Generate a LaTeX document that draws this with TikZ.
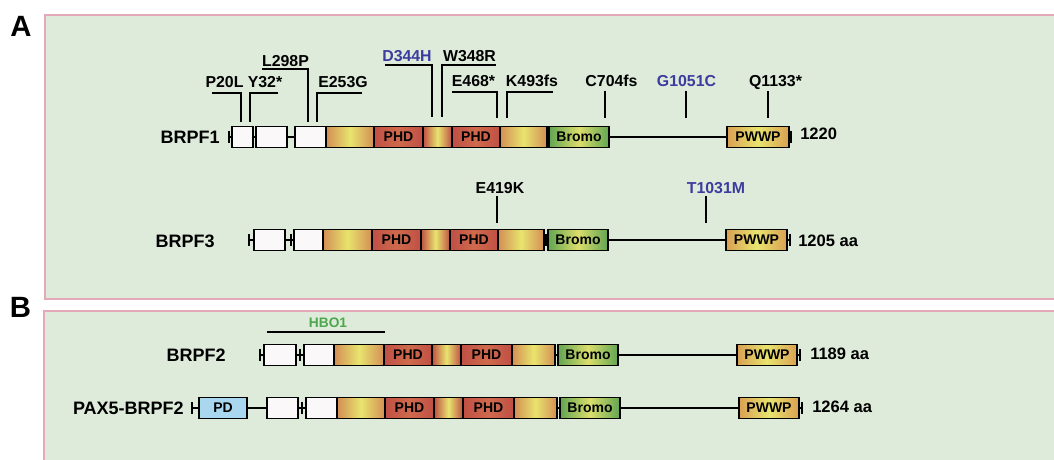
\documentclass[tikz,border=0pt]{standalone}
\usepackage{fontspec}
\setmainfont{Liberation Sans}
\definecolor{bgG}{HTML}{DEEBDA}
\definecolor{bdP}{HTML}{E4A8B8}
\definecolor{cOr}{HTML}{D38E55}
\definecolor{cYe}{HTML}{E8E46E}
\definecolor{cRd}{HTML}{C04F45}
\definecolor{cRd2}{HTML}{CF6A4C}
\definecolor{cGr}{HTML}{62A552}
\definecolor{cOr2}{HTML}{D9A052}
\definecolor{cBl}{HTML}{AAD7F0}
\definecolor{cWh}{HTML}{FBF8FA}
\definecolor{tBlue}{HTML}{3C3CA0}
\definecolor{tGreen}{HTML}{4CA64C}
\newcommand\dm[6]{\node[#1, minimum width={(#4-#3)*0.75pt}] (#2) at ({(#3+#4)/2},#5) {#6};}
\newcommand\tk[3]{\coordinate (#1) at (#2,#3); \draw[tickline] ([yshift=4.5pt]#1) -- ([yshift=-4.5pt]#1);}
\begin{document}
\begin{tikzpicture}[x=0.75pt,y=-0.75pt,
  panel/.style={fill=bgG, draw=bdP, line width=1.1pt},
  dom/.style={draw=black, line width=1.2pt, minimum height=15.75pt, inner sep=0pt, outer sep=0pt, font=\bfseries\fontsize{10.5}{12}\selectfont},
  wbox/.style={dom, fill=cWh},
  grad/.style={dom, left color=cOr, right color=cOr, middle color=cYe},
  phd/.style={dom, left color=cRd, right color=cRd, middle color=cRd2},
  midd/.style={dom, left color=cRd, right color=cRd, middle color=cYe},
  bromo/.style={dom, left color=cGr, right color=cGr, middle color=cYe!90!cGr},
  pwwp/.style={dom, left color=cOr2, right color=cOr2, middle color=cYe},
  pd/.style={dom, fill=cBl},
  bb/.style={line width=1.2pt},
  tickline/.style={line width=1.2pt},
  pname/.style={font=\bfseries\fontsize{13.5}{15}\selectfont, anchor=base east, inner sep=0pt},
  mut/.style={font=\bfseries\fontsize{11.9}{14}\selectfont, anchor=base, inner sep=0pt},
  sz/.style={font=\bfseries\fontsize{12.4}{14}\selectfont, anchor=base west, inner sep=0pt},
  ml/.style={line width=1.1pt},
  plabel/.style={font=\bfseries\fontsize{22}{24}\selectfont, anchor=base, inner sep=0pt}]
\useasboundingbox (0,0) rectangle (1054,460);
\begin{scope}
\clip (0,0) rectangle (1054,460);
\draw[panel] (45,15) rectangle (1070,299);
\draw[panel] (44,311) rectangle (1070,480);
\end{scope}
\node[plabel] (lA) at (21,37) {A};
\node[plabel] (lB) at (20.5,317) {B};

% ---------- BRPF1 ----------
\node[pname] (p1) at (220,143.5) {BRPF1};
\coordinate (s1) at (229,137); \coordinate (e1) at (791,137);
\draw[bb] (s1) -- (e1);
\tk{a1}{229}{137} \tk{b1}{791}{137} \tk{c1}{548}{137}
\dm{wbox}{w11}{232}{253}{137}{}
\dm{wbox}{w12}{256}{287}{137}{}
\dm{wbox}{w13}{295}{326}{137}{}
\dm{grad}{g11}{326}{374}{137}{}
\dm{phd}{h11}{374}{423}{137}{PHD}
\dm{midd}{m1}{423}{452}{137}{}
\dm{phd}{h12}{452}{500}{137}{PHD}
\dm{grad}{g12}{500}{547}{137}{}
\dm{bromo}{br1}{549}{609}{137}{Bromo}
\dm{pwwp}{pw1}{727}{789}{137}{PWWP}
\node[sz] (z1) at (800,140) {1220};
% mutations
\node[mut] (mP20L) at (224.5,88) {P20L};
\draw[ml] (212,93) -- (241,93) -- (241,122);
\node[mut] (mY32) at (265,88) {Y32*};
\draw[ml] (278,93) -- (250,93) -- (250,122);
\node[mut] (mL298P) at (285.5,67) {L298P};
\draw[ml] (262,69) -- (308,69) -- (308,122);
\node[mut] (mE253G) at (343,88) {E253G};
\draw[ml] (362,93) -- (317,93) -- (317,122);
\node[mut, text=tBlue] (mD344H) at (407,62) {D344H};
\draw[ml] (385,65) -- (432,65) -- (432,117);
\node[mut] (mW348R) at (469.5,62) {W348R};
\draw[ml] (496,65) -- (442,65) -- (442,117);
\node[mut] (mE468) at (473.5,87) {E468*};
\draw[ml] (452,92) -- (497,92) -- (497,118);
\node[mut] (mK493) at (532,87) {K493fs};
\draw[ml] (553,92) -- (507,92) -- (507,118);
\node[mut] (mC704) at (611.5,87) {C704fs};
\draw[ml] (605,91) -- (605,118);
\node[mut, text=tBlue] (mG1051) at (686.5,87) {G1051C};
\draw[ml] (686,91) -- (686,118);
\node[mut] (mQ1133) at (775.5,87) {Q1133*};
\draw[ml] (768,91) -- (768,118);

% ---------- BRPF3 ----------
\node[pname] (p3) at (215,247) {BRPF3};
\coordinate (s3) at (249,240); \coordinate (e3) at (790,240);
\draw[bb] (s3) -- (e3);
\tk{a3}{249}{240} \tk{b3}{790}{240} \tk{c3}{546}{240} \tk{d3}{291}{240}
\dm{wbox}{w31}{254}{285}{240}{}
\dm{wbox}{w32}{294}{323}{240}{}
\dm{grad}{g31}{323}{372}{240}{}
\dm{phd}{h31}{372}{421}{240}{PHD}
\dm{midd}{m3}{421}{450}{240}{}
\dm{phd}{h32}{450}{498}{240}{PHD}
\dm{grad}{g32}{498}{544}{240}{}
\dm{bromo}{br3}{548}{608}{240}{Bromo}
\dm{pwwp}{pw3}{726}{787}{240}{PWWP}
\node[sz] (z3) at (798,246) {1205 aa};
\node[mut] (mE419K) at (500,193) {E419K};
\draw[ml] (497,196) -- (497,223);
\node[mut, text=tBlue] (mT1031M) at (716,193) {T1031M};
\draw[ml] (706,196) -- (706,223);

% ---------- BRPF2 ----------
\node[font=\bfseries\fontsize{10.3}{12}\selectfont, text=tGreen, anchor=base, inner sep=0pt] (hbo) at (328,327) {HBO1};
\draw[ml] (267,332) -- (385,332);
\node[pname] (p2) at (226,361.5) {BRPF2};
\coordinate (s2) at (260,355); \coordinate (e2) at (800,355);
\draw[bb] (s2) -- (e2);
\tk{a2}{260}{355} \tk{b2}{800}{355} \tk{d2}{300}{355}
\dm{wbox}{w21}{264}{296}{355}{}
\dm{wbox}{w22}{304}{334}{355}{}
\dm{grad}{g21}{334}{384}{355}{}
\dm{phd}{h21}{384}{432}{355}{PHD}
\dm{midd}{m2}{432}{461}{355}{}
\dm{phd}{h22}{461}{512}{355}{PHD}
\dm{grad}{g22}{512}{555}{355}{}
\dm{bromo}{br2}{558}{618}{355}{Bromo}
\dm{pwwp}{pw2}{737}{797}{355}{PWWP}
\node[sz] (z2) at (810,359) {1189 aa};

% ---------- PAX5-BRPF2 ----------
\node[pname] (p5) at (184,414.5) {PAX5-BRPF2};
\coordinate (s5) at (192,408); \coordinate (e5) at (802,408);
\draw[bb] (s5) -- (e5);
\tk{a5}{192}{408} \tk{b5}{802}{408} \tk{d5}{302}{408}
\dm{pd}{pd5}{199}{247}{408}{PD}
\dm{wbox}{w51}{267}{298}{408}{}
\dm{wbox}{w52}{306}{337}{408}{}
\dm{grad}{g51}{337}{385}{408}{}
\dm{phd}{h51}{385}{434}{408}{PHD}
\dm{midd}{m5}{434}{463}{408}{}
\dm{phd}{h52}{463}{514}{408}{PHD}
\dm{grad}{g52}{514}{557}{408}{}
\dm{bromo}{br5}{560}{620}{408}{Bromo}
\dm{pwwp}{pw5}{739}{799}{408}{PWWP}
\node[sz] (z5) at (812,412) {1264 aa};
\end{tikzpicture}
\end{document}
